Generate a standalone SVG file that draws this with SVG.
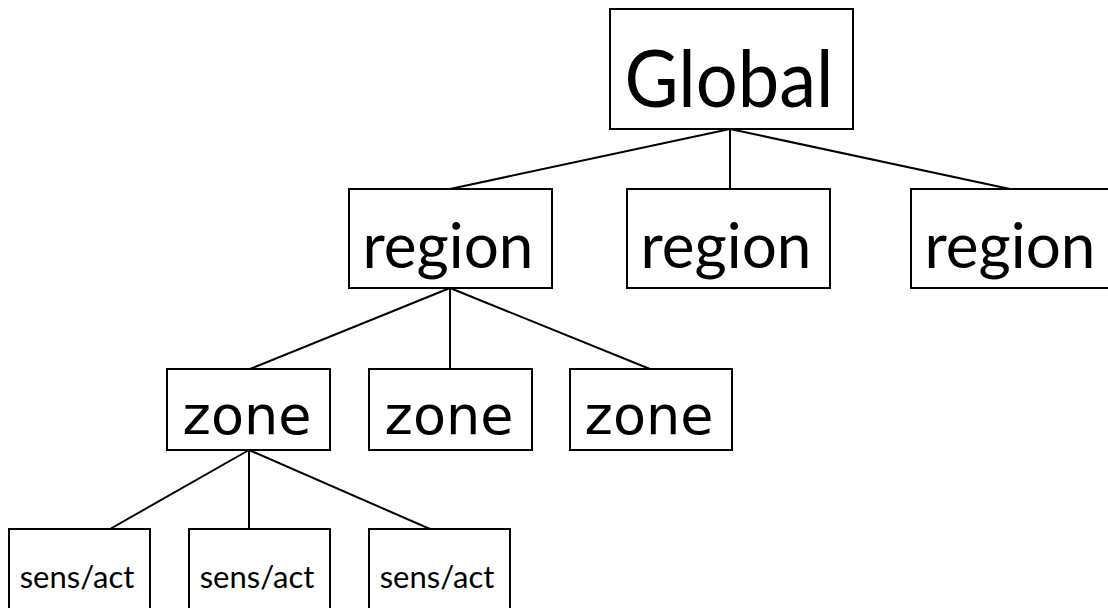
<svg xmlns="http://www.w3.org/2000/svg" width="1108" height="608" viewBox="0 0 1108 608">
  <style>
    .box { fill: #ffffff; stroke: #000000; stroke-width: 2; }
    .edge { stroke: #000000; stroke-width: 2; fill: none; }
    .lbl { font-family: Lato, "Open Sans", sans-serif; fill: #000000; text-anchor: middle; }
    .zone { font-family: "DejaVu Sans", Lato, sans-serif; fill: #000000; text-anchor: middle; }
  </style>
  <rect width="1108" height="608" fill="#ffffff"/>

  <!-- tree edges -->
  <g id="connectors">
    <line class="edge" x1="730" y1="129" x2="450" y2="189"/>
    <line class="edge" x1="730" y1="129" x2="730" y2="189"/>
    <line class="edge" x1="730" y1="129" x2="1010" y2="189"/>
    <line class="edge" x1="450" y1="288" x2="250" y2="369"/>
    <line class="edge" x1="450" y1="288" x2="450" y2="369"/>
    <line class="edge" x1="450" y1="288" x2="650" y2="369"/>
    <line class="edge" x1="249" y1="450" x2="110" y2="529"/>
    <line class="edge" x1="249" y1="450" x2="249" y2="529"/>
    <line class="edge" x1="249" y1="450" x2="430" y2="529"/>
  </g>

  <g id="global">
    <rect class="box" x="610" y="9" width="243" height="120"/>
    <text class="lbl" x="729" y="107" font-size="79" textLength="209" lengthAdjust="spacingAndGlyphs">Global</text>
  </g>

  <g id="region-1">
    <rect class="box" x="349" y="189" width="203" height="99"/>
    <text class="lbl" x="448" y="268" font-size="62">region</text>
  </g>
  <g id="region-2">
    <rect class="box" x="627" y="189" width="203" height="99"/>
    <text class="lbl" x="726" y="268" font-size="62">region</text>
  </g>
  <g id="region-3">
    <rect class="box" x="911" y="189" width="203" height="99"/>
    <text class="lbl" x="1010" y="268" font-size="62">region</text>
  </g>

  <g id="zone-1">
    <rect class="box" x="167" y="369" width="163" height="81"/>
    <text class="zone" x="247" y="434" font-size="54">zone</text>
  </g>
  <g id="zone-2">
    <rect class="box" x="369" y="369" width="163" height="81"/>
    <text class="zone" x="449" y="434" font-size="54">zone</text>
  </g>
  <g id="zone-3">
    <rect class="box" x="570" y="369" width="162" height="81"/>
    <text class="zone" x="649" y="434" font-size="54">zone</text>
  </g>

  <g id="sensact-1">
    <rect class="box" x="9" y="529" width="141" height="100"/>
    <text class="lbl" x="77" y="588" font-size="31">sens/act</text>
  </g>
  <g id="sensact-2">
    <rect class="box" x="189" y="529" width="141" height="100"/>
    <text class="lbl" x="257" y="588" font-size="31">sens/act</text>
  </g>
  <g id="sensact-3">
    <rect class="box" x="369" y="529" width="141" height="100"/>
    <text class="lbl" x="437" y="588" font-size="31">sens/act</text>
  </g>
</svg>
